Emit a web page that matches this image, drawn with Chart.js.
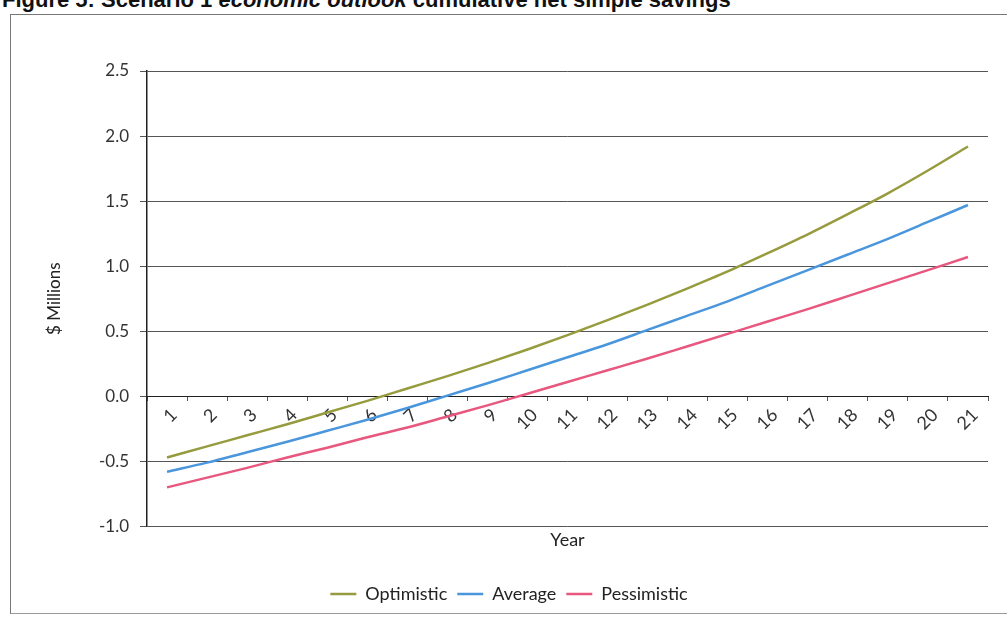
<!DOCTYPE html>
<html>
<head>
<meta charset="utf-8">
<script src="https://cdn.jsdelivr.net/npm/chart.js@4"></script>
<style>
  body { margin: 0; background: #fff; width: 1007px; height: 617px; overflow: hidden; position: relative; }
  .caption { position: absolute; left: 2px; top: -13px; font: bold 22px "Liberation Sans", Arial, sans-serif; color: #111; white-space: nowrap; }
  .frame { position: absolute; left: 10px; top: 14px; width: 1000px; height: 598px; border-top: 1px solid #777; border-left: 1px solid #777; border-bottom: 1px solid #999; }
  .wrap { position: absolute; left: 0; top: 0; width: 1007px; height: 617px; }
</style>
</head>
<body>
<div class="caption">Figure 5: Scenario 1 <i>economic outlook</i> cumulative net simple savings</div>
<div class="frame"></div>
<div class="wrap"><canvas id="myChart"></canvas></div>
<script>
const years = ['1', '2', '3', '4', '5', '6', '7', '8', '9', '10', '11', '12', '13', '14', '15', '16', '17', '18', '19', '20', '21'];
const optimistic = [-0.47, -0.385, -0.30, -0.215, -0.125, -0.035, 0.06, 0.155, 0.255, 0.36, 0.47, 0.585, 0.705, 0.83, 0.96, 1.10, 1.245, 1.40, 1.56, 1.735, 1.92];
const average = [-0.58, -0.51, -0.43, -0.35, -0.265, -0.18, -0.09, 0.005, 0.10, 0.20, 0.30, 0.40, 0.51, 0.62, 0.73, 0.85, 0.97, 1.09, 1.21, 1.34, 1.47];
const pessimistic = [-0.70, -0.625, -0.55, -0.47, -0.395, -0.315, -0.24, -0.155, -0.07, 0.02, 0.11, 0.20, 0.29, 0.385, 0.48, 0.575, 0.67, 0.77, 0.87, 0.97, 1.07];
const yTicks = [-1.0, -0.5, 0.0, 0.5, 1.0, 1.5, 2.0, 2.5];

const font = 'Lato, "Open Sans", sans-serif';

const line = (label, data, color) => ({
  label: label,
  data: data,
  borderColor: color,
  backgroundColor: color,
  borderWidth: 2.5,
  pointRadius: 0,
  cubicInterpolationMode: 'monotone',
  fill: false
});

const ctx = document.getElementById('myChart').getContext('2d');
const chart = new Chart(ctx, {
  type: 'line',
  data: {
    labels: years,
    datasets: [
      line('Optimistic', optimistic, '#969b3e'),
      line('Average', average, '#4a96dc'),
      line('Pessimistic', pessimistic, '#e8577e')
    ]
  },
  options: {
    responsive: true,
    maintainAspectRatio: false,
    animation: false,
    layout: { padding: { left: 30, right: 19, top: 71, bottom: 4 } },
    plugins: {
      legend: {
        position: 'bottom',
        labels: {
          usePointStyle: true,
          pointStyle: 'line',
          pointStyleWidth: 26,
          padding: 10,
          color: '#222',
          font: { family: font, size: 18 }
        }
      },
      tooltip: { enabled: false }
    },
    scales: {
      x: {
        type: 'category',
        position: { y: 0 },
        offset: true,
        grid: { display: true, drawOnChartArea: false, drawTicks: true, tickLength: 4, offset: true, color: '#555' },
        border: { display: true, color: '#222', width: 1 },
        ticks: {
          color: '#333',
          font: { family: font, size: 18 },
          minRotation: 45,
          maxRotation: 45,
          padding: 4,
          labelOffset: 7,
          autoSkip: false
        }
      },
      xYear: {
        type: 'category',
        position: 'bottom',
        grid: { display: false, drawTicks: false },
        border: { display: false },
        ticks: { display: false },
        title: {
          display: true,
          text: 'Year',
          color: '#222',
          font: { family: font, size: 18 },
          padding: { top: 3, bottom: 24 }
        }
      },
      y: {
        min: -1,
        max: 2.5,
        afterBuildTicks: (scale) => { scale.ticks = yTicks.map(v => ({ value: v })); },
        afterFit: (scale) => { scale.width = 117; },
        grid: { color: '#555', lineWidth: 1, tickLength: 7, drawTicks: true },
        border: { display: true, color: '#222', width: 1.5 },
        ticks: {
          color: '#333',
          font: { family: font, size: 17 },
          padding: 11,
          callback: (v) => Number(v).toFixed(1)
        },
        title: {
          display: true,
          text: '$ Millions',
          color: '#222',
          font: { family: font, size: 17 },
          padding: { top: 14, bottom: 0 }
        }
      }
    }
  }
});
</script>
</body>
</html>
